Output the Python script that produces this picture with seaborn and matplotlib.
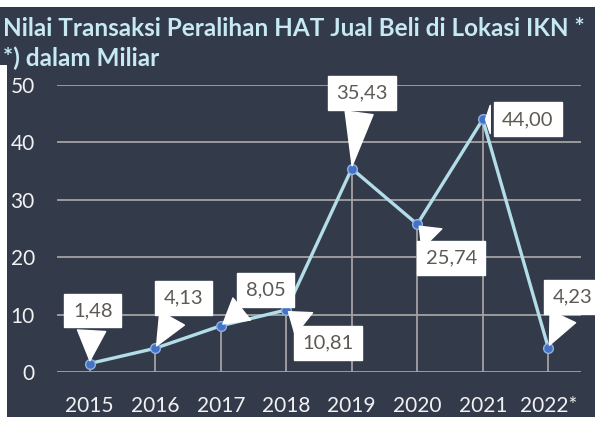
import numpy as np
import matplotlib
matplotlib.use("Agg")
import matplotlib.pyplot as plt
import matplotlib.patches as mpatches
import seaborn as sns

# data
years  = ["2015", "2016", "2017", "2018", "2019", "2020", "2021", "2022*"]
values = [1.48, 4.13, 8.05, 10.81, 35.43, 25.74, 44.00, 4.23]
labels = ["1,48", "4,13", "8,05", "10,81", "35,43", "25,74", "44,00", "4,23"]
# label box offsets from each point (pixels)
offsets = [(3, 53), (28, 50), (45, 36), (42, -33),
           (10, 76), (34, -34), (45, 0), (24, 51)]

BG      = "#333b4b"
TITLE_C = "#c6e9f2"
LINE_C  = "#b3dde9"
DOT_C   = "#4472c4"
GRID_C  = "#a3a3a3"
LABEL_C = "#5d5955"

sns.set_theme(style="white")
plt.rcParams["font.family"] = ["Lato", "DejaVu Sans"]

fig = plt.figure(figsize=(6.01, 4.23), dpi=100, facecolor="white")
# dark slide background
fig.patches.append(mpatches.Rectangle((0, 6 / 423), 595 / 601, 410 / 423,
                                      transform=fig.transFigure,
                                      facecolor=BG, edgecolor="none", zorder=-2))
fig.patches.append(mpatches.Rectangle((0, 0), 7 / 601, 358 / 423,
                                      transform=fig.transFigure,
                                      facecolor="white", edgecolor="none", zorder=-1))

ax = fig.add_axes([57 / 601, 51 / 423, 524 / 601, 287 / 423])
ax.set_facecolor("none")

x = np.arange(len(years))

# horizontal gridlines and drop lines
for v in range(0, 51, 10):
    ax.axhline(v, color=GRID_C, linewidth=1.3, zorder=1)
ax.vlines(x, 0, values, color=GRID_C, linewidth=1.3, zorder=1)

sns.lineplot(x=x, y=values, ax=ax, color=LINE_C, linewidth=2.4,
             marker="o", markersize=7, markerfacecolor=DOT_C,
             markeredgecolor="#8fb3e8", markeredgewidth=1.0, zorder=3)

for xi, v, lab, (dx, dy) in zip(x, values, labels, offsets):
    ax.annotate(lab, xy=(xi, v), xytext=(dx, dy), textcoords="offset pixels",
                ha="center", va="center", fontsize=14.5, color=LABEL_C,
                bbox=dict(boxstyle="square,pad=0.42", fc="white", ec="white"),
                arrowprops=dict(arrowstyle="wedge,tail_width=1.4,shrink_factor=0.5",
                                fc="white", ec="white", shrinkB=2),
                zorder=4)

ax.set_xlim(-0.5, 7.5)
ax.set_ylim(0, 50)
ax.set_xticks(x)
ax.set_xticklabels(years)
ax.set_yticks(range(0, 51, 10))
ax.tick_params(axis="x", length=0, pad=17, labelsize=15, labelcolor="#f2f2f2")
ax.tick_params(axis="y", length=0, pad=16, labelsize=15, labelcolor="#f2f2f2")
for s in ax.spines.values():
    s.set_visible(False)
ax.grid(False)

fig.text(3 / 601, (423 - 36) / 423, "Nilai Transaksi Peralihan HAT Jual Beli di Lokasi IKN *",
         color=TITLE_C, fontsize=17.5, fontweight="bold", va="baseline", ha="left")
fig.text(3 / 601, (423 - 66) / 423, "*) dalam Miliar",
         color=TITLE_C, fontsize=17.5, fontweight="bold", va="baseline", ha="left")

fig.savefig("out.png", dpi=100, facecolor="white")
